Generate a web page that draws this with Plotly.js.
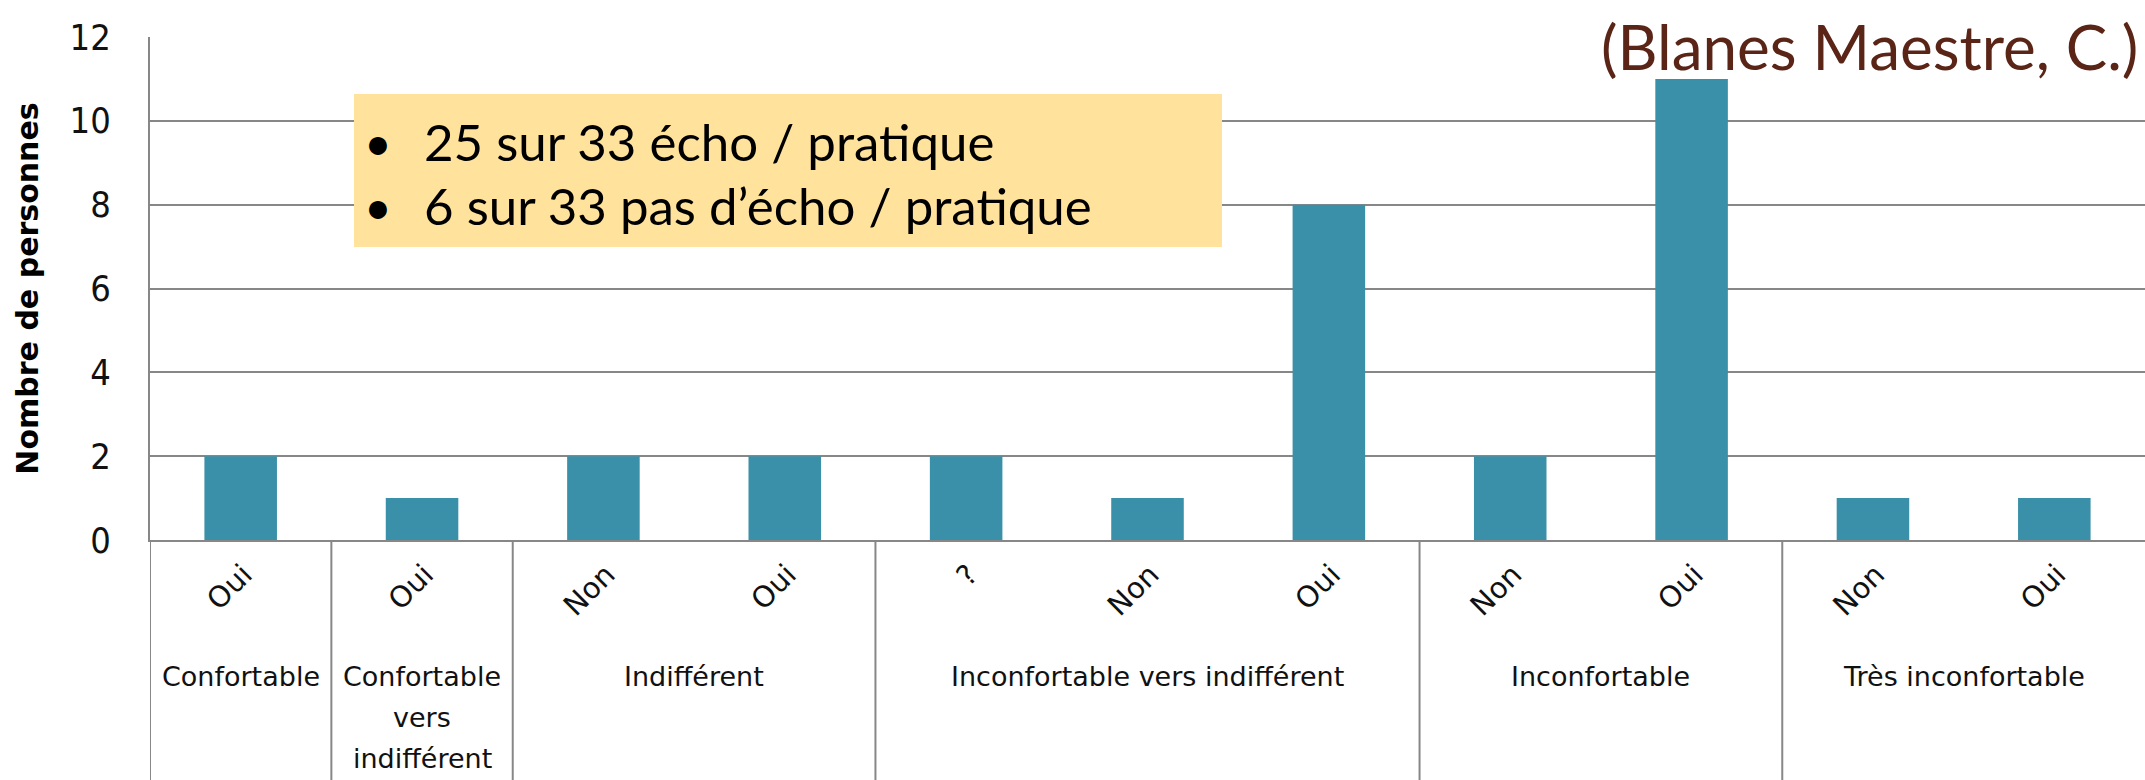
<!DOCTYPE html>
<html>
<head>
<meta charset="utf-8">
<script src="https://cdn.plot.ly/plotly-3.0.1.min.js"></script>
<style>html,body{margin:0;padding:0;background:#fff;}#chart{width:2145px;height:780px;}</style>
</head>
<body>
<div id="chart"></div>
<script>
// ---- data ----
const groupLabels = ["Confortable", "Confortable<br>vers<br>indifférent", "Indifférent",
                     "Inconfortable vers indifférent", "Inconfortable", "Très inconfortable"];
const groupOf   = [0, 1, 2, 2, 3, 3, 3, 4, 4, 5, 5];
const subLabels = ["Oui", "Oui", "Non", "Oui", "?", "Non", "Oui", "Non", "Oui", "Non", "Oui"];
const counts    = [2, 1, 2, 2, 2, 1, 8, 2, 11, 1, 1];
const yTicks    = [0, 2, 4, 6, 8, 10, 12];
const boxLines  = ["25 sur 33 écho / pratique", "6 sur 33 pas d’écho / pratique"];
const credit    = "(Blanes Maestre, C.)";
const yTitle    = "Nombre de personnes";

// ---- layout constants ----
const W = 2145, H = 780;
const M = {l: 150, r: 0, t: 37, b: 240};
const PW = W - M.l - M.r, PH = H - M.t - M.b;
const px2x = p => (p - M.l) / PW;
const py2y = p => (H - M.b - p) / PH;
const GRID = '#878787';

const idx = counts.map((_, i) => i);

const trace = {
  type: 'bar', x: idx, y: counts,
  marker: {color: '#3A90A8', line: {width: 0}},
  hoverinfo: 'skip'
};

const shapes = [];
// group separators below the axis
groupOf.forEach((g, i) => {
  if (i === 0 || g !== groupOf[i - 1]) {
    shapes.push({type: 'line', xref: 'x', yref: 'paper', x0: i - 0.5, x1: i - 0.5,
      y0: 0, y1: py2y(H + 2), line: {color: GRID, width: 2}, layer: 'above'});
  }
});
// yellow text box
shapes.push({type: 'rect', xref: 'paper', yref: 'paper', x0: px2x(354), x1: px2x(1222),
  y0: py2y(247), y1: py2y(94), fillcolor: '#FFE29B', line: {width: 0}, layer: 'above'});

const annotations = [];
groupLabels.forEach((lab, g) => {
  const members = idx.filter(i => groupOf[i] === g);
  const c = members.reduce((a, b) => a + b, 0) / members.length;
  lab.split('<br>').forEach((line, k) => {
    annotations.push({xref: 'x', yref: 'paper', x: c, y: py2y(676 + 41 * k), yanchor: 'middle', xanchor: 'center',
      text: line, showarrow: false, align: 'center',
      font: {family: 'DejaVu Sans', size: 27, color: '#111'}});
  });
});
const lineY = [141, 206];
boxLines.forEach((t, k) => {
  annotations.push({xref: 'paper', yref: 'paper', x: px2x(378), y: py2y(lineY[k]), xanchor: 'center', yanchor: 'middle',
    text: '•', showarrow: false, font: {family: 'Lato', size: 48, color: '#000'}});
  annotations.push({xref: 'paper', yref: 'paper', x: px2x(422), y: py2y(lineY[k]), xanchor: 'left', yanchor: 'middle',
    text: t, showarrow: false, font: {family: 'Lato', size: 51, color: '#000'}});
});
annotations.push({xref: 'paper', yref: 'paper', x: px2x(2140), y: py2y(46), xanchor: 'right', yanchor: 'middle',
  text: credit, showarrow: false, font: {family: 'Lato', size: 62, color: '#5A2416'}});

const layout = {
  width: W, height: H, margin: M,
  paper_bgcolor: '#fff', plot_bgcolor: '#fff',
  showlegend: false, bargap: 0.6,
  xaxis: {
    range: [-0.5, counts.length - 0.5], tickmode: 'array', tickvals: idx, ticktext: subLabels,
    tickangle: -45, ticks: '', showgrid: false, zeroline: false,
    showline: true, linecolor: GRID, linewidth: 2,
    ticklabelstandoff: 4, ticklabelshift: 3,
    tickfont: {family: 'DejaVu Sans', size: 29, color: '#111'}, fixedrange: true
  },
  yaxis: {
    range: [0, 12], tickmode: 'array', tickvals: yTicks, ticks: '',
    showgrid: true, gridcolor: GRID, gridwidth: 2, zeroline: false,
    showline: true, linecolor: GRID, linewidth: 2,
    ticklabelstandoff: 30,
    tickfont: {family: 'DejaVu Sans Condensed, Liberation Sans Narrow, Arial Narrow, sans-serif', size: 36, color: '#111'},
    title: {text: yTitle, standoff: 22, font: {family: 'DejaVu Sans', size: 30, weight: 'bold', color: '#000'}},
    fixedrange: true
  },
  shapes: shapes, annotations: annotations
};

Plotly.newPlot('chart', [trace], layout, {displayModeBar: false, staticPlot: true});
</script>
</body>
</html>
